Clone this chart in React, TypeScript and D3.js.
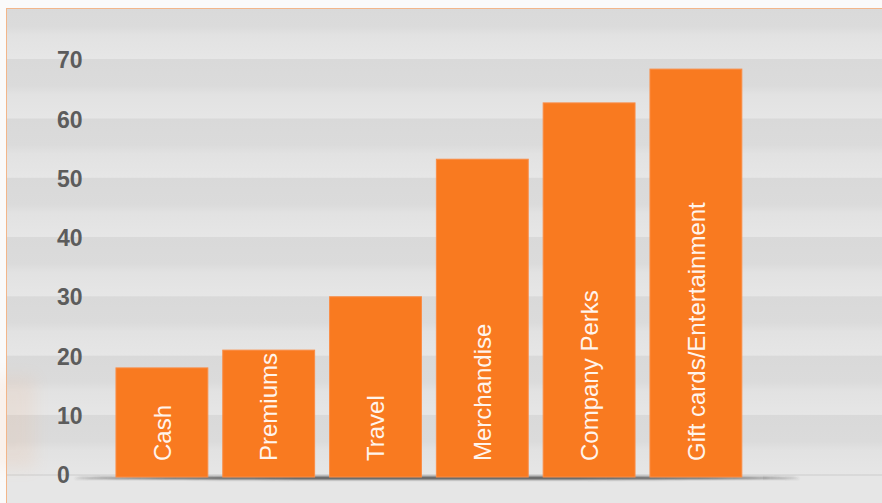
import React from "react";
import * as d3 from "d3";

const categories = ["Cash", "Premiums", "Travel", "Merchandise", "Company Perks", "Gift cards/Entertainment"];
const values = [18.4, 21.4, 30.4, 53.6, 63.1, 68.8];
const yTicks = [0, 10, 20, 30, 40, 50, 60, 70];

const W = 882;
const H = 503;
const frameX = 6;
const frameY = 8;

export default function App() {
  const x = d3.scaleBand<string>().domain(categories).range([108.5, 749.3]).paddingInner(0.14).paddingOuter(0.07);
  const y = d3.scaleLinear().domain([0, 70]).range([477, 62]);
  const edgeOff = -3;
  const step = y(0) - y(10);
  const bandTicks = [...yTicks, 80];
  const bands = bandTicks
    .map((t) => ({ top: y(t) + edgeOff, bottom: y(t) + edgeOff + step }))
    .filter((b) => b.bottom > frameY);
  const x0 = x.range()[0];
  const x1 = x.range()[1];
  return (
    <svg width={W} height={H} style={{ position: "absolute", left: 0, top: 0 }}>
      <defs>
        <linearGradient id="band" x1="0" y1="0" x2="0" y2="1">
          <stop offset="0" stopColor="#d9d9d9" />
          <stop offset="0.45" stopColor="#dbdbdb" />
          <stop offset="0.6" stopColor="#e2e2e2" />
          <stop offset="1" stopColor="#e6e6e6" />
        </linearGradient>
        <filter id="blur" x="-10%" y="-300%" width="120%" height="700%">
          <feGaussianBlur stdDeviation="0.9" />
        </filter>
        <filter id="blur2" x="-50%" y="-50%" width="200%" height="200%">
          <feGaussianBlur stdDeviation="8" />
        </filter>
        <clipPath id="frame">
          <rect x={frameX} y={frameY} width={W - frameX} height={H - frameY} />
        </clipPath>
      </defs>
      <rect x={0} y={0} width={W} height={H} fill="#fafafa" />
      <g clipPath="url(#frame)">
        <rect x={frameX} y={frameY} width={W} height={H} fill="#e6e6e6" />
        {bands.map((b, i) => (
          <rect key={i} x={frameX} y={b.top} width={W} height={b.bottom - b.top} fill="url(#band)" />
        ))}
        <rect x={frameX} y={y(0) + edgeOff + 2} width={W} height={H} fill="#e6e6e6" />
      </g>
      <rect x={-10} y={y(17)} width={45} height={y(0) - y(17) - 8} fill="#f7a36a" opacity={0.1} filter="url(#blur2)" />
      <line x1={frameX} x2={W} y1={frameY + 0.5} y2={frameY + 0.5} stroke="#f2b68a" strokeWidth={1} />
      <line x1={frameX + 0.5} x2={frameX + 0.5} y1={frameY} y2={H} stroke="#f2b68a" strokeWidth={1} />
      <ellipse cx={(x0 + x1) / 2 + 8} cy={y(0) + 1} rx={(x1 - x0) / 2 + 42} ry={1.5} fill="#444" filter="url(#blur)" />
      {yTicks.map((t) => (
        <text
          key={t}
          x={57}
          y={y(t) - 2}
          dy="0.36em"
          fontFamily="Liberation Sans, Arial, sans-serif"
          fontWeight="bold"
          fontSize={23}
          fill="#5c5c5c"
        >
          {t}
        </text>
      ))}
      {categories.map((c, i) => {
        const bx = x(c)!;
        const bw = x.bandwidth();
        const cx = bx + bw / 2;
        const by = y(0) - 16;
        return (
          <g key={c}>
            <rect x={bx} y={y(values[i])} width={bw} height={y(0) - y(values[i])} fill="#f97a20" stroke="#fa8c45" strokeWidth={1} />
            <text
              transform={`translate(${cx},${by}) rotate(-90)`}
              dy="0.36em"
              fontFamily="Liberation Sans, Arial, sans-serif"
              fontSize={24}
              fill="#fff4ec"
            >
              {c}
            </text>
          </g>
        );
      })}
    </svg>
  );
}
